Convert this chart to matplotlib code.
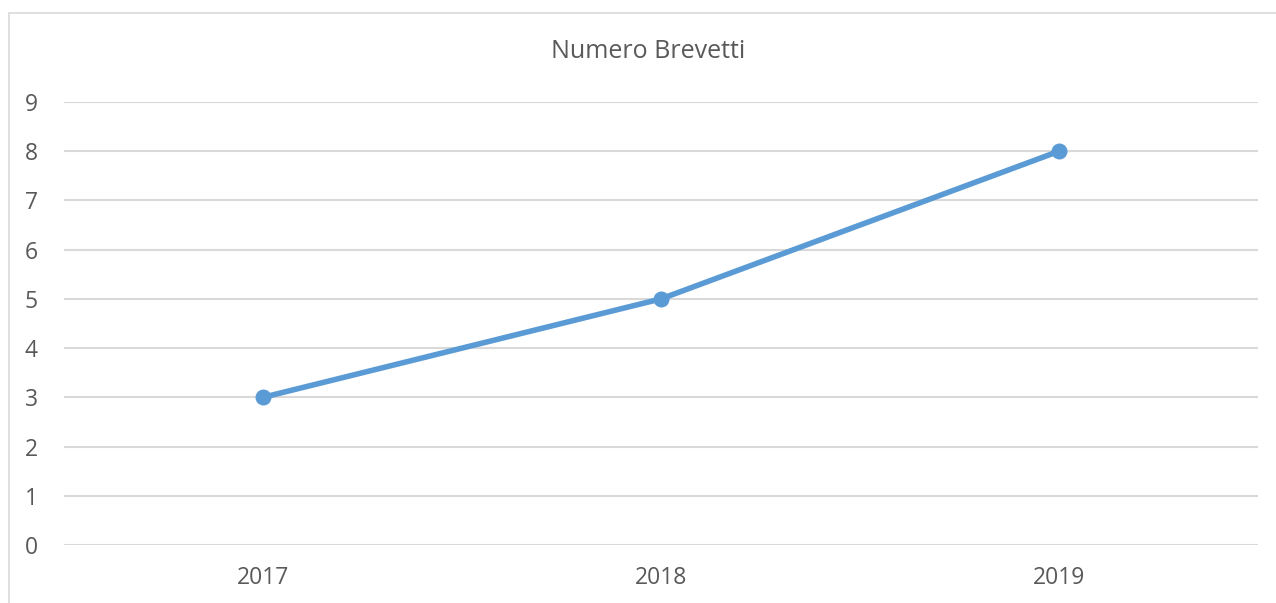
import matplotlib.pyplot as plt
from matplotlib.patches import Rectangle

years = ["2017", "2018", "2019"]
brevetti = [3, 5, 8]

W, H = 1276, 603
fig = plt.figure(figsize=(W / 100, H / 100), dpi=100)
plt.rcParams['font.family'] = ['Open Sans', 'DejaVu Sans']

# chart border (cropped on right and bottom in the original)
fig.patches.append(Rectangle((8.5 / W, -0.1), 1.2, (H - 13.5) / H + 0.1,
                             transform=fig.transFigure, fill=False,
                             edgecolor='#d9d9d9', linewidth=1.2))

ax = fig.add_axes([64 / W, 58 / H, (1258 - 64) / W, (545 - 102) / H])
x = range(len(years))
ax.plot(x, brevetti, color='#5b9bd5', linewidth=4, marker='o',
        markersize=10.5, solid_capstyle='round', zorder=3)

ax.set_xlim(-0.5, 2.5)
ax.set_ylim(0, 9)
ax.set_yticks(range(10))
ax.set_xticks(list(x))
ax.set_xticklabels(years)
ax.grid(axis='y', color='#d9d9d9', linewidth=1.5)
ax.set_axisbelow(True)
for s in ax.spines.values():
    s.set_visible(False)
ax.tick_params(length=0, labelsize=16.5, labelcolor='#595959')
ax.tick_params(axis='y', pad=19)
ax.tick_params(axis='x', pad=15)

fig.text(648 / W, 1 - 52 / H, "Numero Brevetti", ha='center', va='center',
         fontsize=18, color='#595959')

fig.savefig("out.png", dpi=100)
